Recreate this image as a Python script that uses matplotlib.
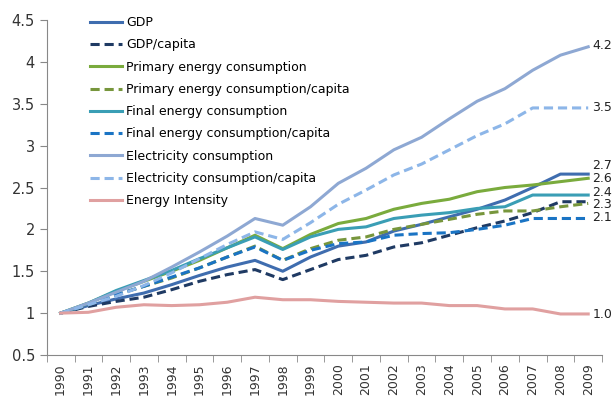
import matplotlib.pyplot as plt
import numpy as np

years = [str(y) for y in range(1990, 2010)]

gdp = [1.0, 1.09, 1.17, 1.24, 1.34, 1.45, 1.55, 1.63, 1.5, 1.67, 1.8, 1.85, 1.98, 2.06, 2.15, 2.24, 2.35, 2.5, 2.66, 2.66]
gdp_cap = [1.0, 1.08, 1.14, 1.19, 1.28, 1.38, 1.46, 1.52, 1.4, 1.52, 1.64, 1.69, 1.79, 1.84, 1.93, 2.02, 2.1, 2.2, 2.33, 2.33]
prim = [1.0, 1.12, 1.26, 1.38, 1.5, 1.63, 1.78, 1.93, 1.77, 1.94, 2.07, 2.13, 2.24, 2.31, 2.36, 2.45, 2.5, 2.53, 2.57, 2.61]
prim_cap = [1.0, 1.1, 1.22, 1.32, 1.42, 1.54, 1.67, 1.8, 1.63, 1.77, 1.87, 1.91, 2.0, 2.06, 2.12, 2.18, 2.22, 2.22, 2.27, 2.31]
final = [1.0, 1.12, 1.27, 1.39, 1.51, 1.65, 1.78, 1.91, 1.76, 1.91, 2.0, 2.03, 2.13, 2.17, 2.2, 2.25, 2.27, 2.41, 2.41, 2.41]
final_cap = [1.0, 1.1, 1.22, 1.32, 1.43, 1.54, 1.67, 1.79, 1.63, 1.75, 1.83, 1.85, 1.93, 1.95, 1.96, 2.0, 2.05, 2.13, 2.13, 2.13]
elec = [1.0, 1.12, 1.25, 1.38, 1.55, 1.73, 1.92, 2.13, 2.05, 2.27, 2.55, 2.73, 2.95, 3.1, 3.32, 3.53, 3.68, 3.9, 4.08, 4.18]
elec_cap = [1.0, 1.1, 1.2, 1.33, 1.48, 1.65, 1.82, 1.97, 1.88, 2.08, 2.3, 2.47, 2.65, 2.78, 2.95, 3.12, 3.26, 3.45, 3.45, 3.45]
intensity = [1.0, 1.01, 1.07, 1.1, 1.09, 1.1, 1.13, 1.19, 1.16, 1.16, 1.14, 1.13, 1.12, 1.12, 1.09, 1.09, 1.05, 1.05, 0.99, 0.99]

# end-of-line value labels and where they sit
end_labels = ["4.2", "3.5", "2.7", "2.6", "2.4", "2.3", "2.1", "1.0"]
end_y = [4.2, 3.46, 2.76, 2.61, 2.44, 2.30, 2.14, 0.98]

series = [
    ("GDP", gdp, "#3F6DAF", "-"),
    ("GDP/capita", gdp_cap, "#1F3A63", "--"),
    ("Primary energy consumption", prim, "#7AAB3D", "-"),
    ("Primary energy consumption/capita", prim_cap, "#77963C", "--"),
    ("Final energy consumption", final, "#3A9EB5", "-"),
    ("Final energy consumption/capita", final_cap, "#1A74C4", "--"),
    ("Electricity consumption", elec, "#8EA8D3", "-"),
    ("Electricity consumption/capita", elec_cap, "#8DB6E8", "--"),
    ("Energy Intensity", intensity, "#E0A0A0", "-"),
]

fig = plt.figure(figsize=(6.15, 4), dpi=100)
ax = fig.add_axes([0.076, 0.1125, 0.903, 0.8375])
x = np.arange(len(years))

for name, vals, col, ls in series:
    if ls == "--":
        ax.plot(x, vals, color=col, lw=2.2, dashes=(3, 1.6), label=name)
    else:
        ax.plot(x, vals, color=col, lw=2.2, label=name)

for t, yv in zip(end_labels, end_y):
    ax.text(x[-1] + 0.15, yv, t, va="center", ha="left", fontsize=9, color="#222222")

ax.set_ylim(0.5, 4.5)
ax.set_xlim(-0.5, len(years) - 0.5)
ax.set_yticks(np.arange(0.5, 4.51, 0.5))
ax.set_yticklabels(["0.5", "1", "1.5", "2", "2.5", "3", "3.5", "4", "4.5"])
ax.set_xticks(x)
ax.set_xticklabels(years, rotation=90)
ax.set_xticks(np.arange(-0.5, len(years), 1), minor=True)
ax.tick_params(axis="x", which="major", length=0, labelsize=9, colors="#333333", pad=6)
ax.tick_params(axis="x", which="minor", length=5, color="#888888", direction="out")
ax.tick_params(axis="y", length=5, color="#888888", labelsize=10.5, labelcolor="#333333")

for s in ["top", "right"]:
    ax.spines[s].set_visible(False)
for s in ["left", "bottom"]:
    ax.spines[s].set_color("#888888")

ax.legend(loc="upper left", bbox_to_anchor=(0.138, 0.972), bbox_transform=fig.transFigure,
          frameon=False, fontsize=9, labelspacing=0.74, handlelength=2.6,
          handletextpad=0.3, borderaxespad=0)

fig.savefig("out.png", dpi=100)
